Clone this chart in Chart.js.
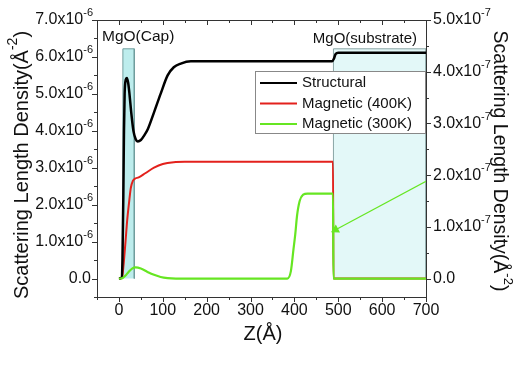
<!DOCTYPE html>
<html lang="en">
<head>
    <title>Scattering Length Density</title>
    <meta charset="utf-8">
    <script src="https://cdn.jsdelivr.net/npm/chart.js"></script>
<style>
        body { margin: 0; background: white; }
        #wrap { width: 514px; height: 371px; }
    </style>
</head>
<body>
    <div id="wrap"><canvas id="sldChart" width="514" height="371"></canvas></div>

    <script>
        // values in units of 1e-6 (left axis)
        const zStruct = [0, 6, 8, 10, 11.5, 13, 15.5, 18, 21, 24, 28, 33, 38, 43, 50, 58, 66, 80, 95, 111, 125, 141, 164, 300, 486, 490, 494, 500, 700];
        const structural = [0, 0.02, 0.5, 2.2, 4.0, 5.0, 5.38, 5.43, 5.3, 5.0, 4.5, 4.0, 3.78, 3.71, 3.75, 3.88, 4.05, 4.5, 5.0, 5.5, 5.72, 5.82, 5.88, 5.88, 5.88, 5.95, 6.08, 6.11, 6.11];

        const zMag400 = [0, 7, 10, 15, 19, 23, 27, 32, 36, 45, 60, 80, 100, 125, 150, 488, 489, 700];
        const mag400 = [0, 0.02, 0.3, 1.0, 1.6, 2.05, 2.45, 2.65, 2.7, 2.74, 2.85, 3.0, 3.1, 3.15, 3.16, 3.16, 0, 0];

        const zMag300 = [0, 8, 15, 22, 30, 38, 50, 65, 80, 95, 111, 130, 384, 392, 398, 402, 406, 412, 420, 430, 488, 489, 700];
        const mag300 = [0, 0.01, 0.08, 0.18, 0.27, 0.3, 0.27, 0.18, 0.1, 0.04, 0.01, 0, 0, 0.2, 0.8, 1.2, 1.7, 2.1, 2.27, 2.3, 2.3, 0, 0];

        const zCap = [9, 9, 35, 35];
        const capY = [0, 6.22, 6.22, 0];
        const zSub = [489, 489, 700, 700];
        const subY = [0, 6.22, 6.22, 0];

        const zArrow = [700, 494];
        const arrowY = [2.63, 1.32];

        const xTicks = [0, 100, 200, 300, 400, 500, 600, 700];
        const leftTicks = [0, 1, 2, 3, 4, 5, 6, 7];
        const rightTicks = [0, 1, 2, 3, 4, 5];

        function pts(xs, ys) {
            return xs.map((x, i) => ({ x: x, y: ys[i] }));
        }

        function supText(ctx, base, sup, x, y, align, size) {
            ctx.font = size + 'px "Liberation Sans", Arial, sans-serif';
            var w1 = ctx.measureText(base).width;
            ctx.font = Math.round(size * 0.68) + 'px "Liberation Sans", Arial, sans-serif';
            var w2 = sup ? ctx.measureText(sup).width : 0;
            var total = w1 + w2;
            var x0 = align === 'right' ? x - total : align === 'center' ? x - total / 2 : x;
            ctx.textAlign = 'left';
            ctx.textBaseline = 'middle';
            ctx.font = size + 'px "Liberation Sans", Arial, sans-serif';
            ctx.fillText(base, x0, y);
            if (sup) {
                ctx.font = Math.round(size * 0.68) + 'px "Liberation Sans", Arial, sans-serif';
                ctx.fillText(sup, x0 + w1, y - size * 0.42);
            }
            return x0 + total;
        }

        function titleText(ctx, cx, cy, angle, size) {
            ctx.save();
            ctx.translate(cx, cy);
            ctx.rotate(angle);
            ctx.font = size + 'px "Liberation Sans", Arial, sans-serif';
            var wClose = ctx.measureText(')').width;
            var end = supText(ctx, 'Scattering Length Density(Å', '-2', -wClose / 2, 0, 'center', size);
            ctx.font = size + 'px "Liberation Sans", Arial, sans-serif';
            ctx.fillText(')', end, 0);
            ctx.restore();
        }

        const framePlugin = {
            id: 'frame',
            afterDraw(chart) {
                const ctx = chart.ctx, a = chart.chartArea;
                const sx = chart.scales.x, sy = chart.scales.y, sy2 = chart.scales.y2;
                ctx.save();
                ctx.strokeStyle = '#333';
                ctx.lineWidth = 1;
                ctx.strokeRect(Math.round(a.left) + 0.5, Math.round(a.top) + 0.5,
                    Math.round(a.right - a.left), Math.round(a.bottom - a.top));

                ctx.beginPath();
                for (var v = -50; v <= 700; v += 50) {
                    var px = Math.round(sx.getPixelForValue(v)) + 0.5;
                    var len = v % 100 === 0 ? 5 : 3;
                    ctx.moveTo(px, a.bottom); ctx.lineTo(px, a.bottom + len);
                    ctx.moveTo(px, a.top); ctx.lineTo(px, a.top + len);
                }
                for (var v = -0.5; v <= 7; v += 0.5) {
                    var py = Math.round(sy.getPixelForValue(v)) + 0.5;
                    var len = Number.isInteger(v) ? 5 : 3;
                    ctx.moveTo(a.left, py); ctx.lineTo(a.left - len, py);
                }
                for (var v = 0; v <= 5; v += 0.5) {
                    var py = Math.round(sy2.getPixelForValue(v)) + 0.5;
                    var len = Number.isInteger(v) ? 5 : 3;
                    ctx.moveTo(a.right, py); ctx.lineTo(a.right + len, py);
                }
                ctx.stroke();

                ctx.fillStyle = '#111';
                xTicks.forEach(function (v) {
                    supText(ctx, String(v), '', sx.getPixelForValue(v), a.bottom + 14, 'center', 16);
                });
                leftTicks.forEach(function (v) {
                    var y = sy.getPixelForValue(v);
                    if (v === 0) supText(ctx, '0.0', '', a.left - 6, y, 'right', 16);
                    else supText(ctx, v.toFixed(1) + 'x10', '-6', a.left - 4, y, 'right', 16);
                });
                rightTicks.forEach(function (v) {
                    var y = sy2.getPixelForValue(v);
                    if (v === 0) supText(ctx, '0.0', '', a.right + 7, y, 'left', 16);
                    else supText(ctx, v.toFixed(1) + 'x10', '-7', a.right + 7, y, 'left', 16);
                });

                // axis titles
                supText(ctx, 'Z(Å)', '', 263, 334, 'center', 20);
                titleText(ctx, 22, 165, -Math.PI / 2, 20);
                titleText(ctx, 499, 161, Math.PI / 2, 19.5);

                // region labels
                supText(ctx, 'MgO(Cap)', '', a.left + 5, 37, 'left', 15.5);
                supText(ctx, 'MgO(substrate)', '', 417, 39, 'right', 15);

                // legend
                ctx.fillStyle = 'white';
                ctx.fillRect(255.5, 71.5, 170, 62);
                ctx.strokeStyle = '#888';
                ctx.strokeRect(255.5, 71.5, 170, 62);
                var items = [['Structural', '#000000'], ['Magnetic (400K)', '#e3211c'], ['Magnetic (300K)', '#66e622']];
                items.forEach(function (it, i) {
                    var y = 83 + i * 20.5;
                    ctx.strokeStyle = it[1];
                    ctx.lineWidth = 2;
                    ctx.beginPath();
                    ctx.moveTo(260, y); ctx.lineTo(297, y);
                    ctx.stroke();
                    ctx.fillStyle = '#111';
                    supText(ctx, it[0], '', 302, y, 'left', 15);
                });
                ctx.restore();
            }
        };

        new Chart(document.getElementById('sldChart'), {
            type: 'line',
            data: {
                datasets: [
                    {
                        label: 'Structural',
                        data: pts(zStruct, structural),
                        borderColor: '#000000',
                        borderWidth: 2.5,
                        cubicInterpolationMode: 'monotone',
                        order: 1
                    },
                    {
                        label: 'Magnetic (400K)',
                        data: pts(zMag400, mag400),
                        borderColor: '#e3211c',
                        borderWidth: 2,
                        cubicInterpolationMode: 'monotone',
                        order: 2
                    },
                    {
                        label: 'Magnetic (300K)',
                        data: pts(zMag300, mag300),
                        borderColor: '#66e622',
                        borderWidth: 2.2,
                        cubicInterpolationMode: 'monotone',
                        order: 0
                    },
                    {
                        label: 'arrow',
                        data: pts(zArrow, arrowY),
                        borderColor: '#66e622',
                        backgroundColor: '#66e622',
                        borderWidth: 1.2,
                        pointRadius: [0, 4],
                        pointStyle: 'triangle',
                        rotation: [0, 242],
                        order: 0
                    },
                    {
                        label: 'cap',
                        data: pts(zCap, capY),
                        borderColor: '#6f9d9d',
                        backgroundColor: '#bdeded',
                        borderWidth: 1,
                        fill: 'origin',
                        order: 10
                    },
                    {
                        label: 'substrate',
                        data: pts(zSub, subY),
                        borderColor: '#8aa6a6',
                        backgroundColor: '#e3f8f8',
                        borderWidth: 1,
                        fill: 'origin',
                        order: 11
                    }
                ]
            },
            options: {
                responsive: false,
                animation: false,
                layout: { padding: { top: 20, left: 0, right: 0, bottom: 0 }, autoPadding: false },
                elements: { point: { radius: 0 }, line: { tension: 0 } },
                plugins: { legend: { display: false }, tooltip: { enabled: false } },
                scales: {
                    x: {
                        type: 'linear', position: 'bottom', min: -50, max: 700,
                        ticks: { display: false }, grid: { display: false }, border: { display: false },
                        afterFit: function (s) { s.height = 74; }
                    },
                    y: {
                        position: 'left', min: -0.5, max: 7,
                        ticks: { display: false }, grid: { display: false }, border: { display: false },
                        afterFit: function (s) { s.width = 97; }
                    },
                    y2: {
                        position: 'right', min: -0.5 * 5 / 7, max: 5,
                        ticks: { display: false }, grid: { display: false }, border: { display: false },
                        afterFit: function (s) { s.width = 88; }
                    }
                }
            },
            plugins: [framePlugin]
        });
        </script>
        </body></html>
